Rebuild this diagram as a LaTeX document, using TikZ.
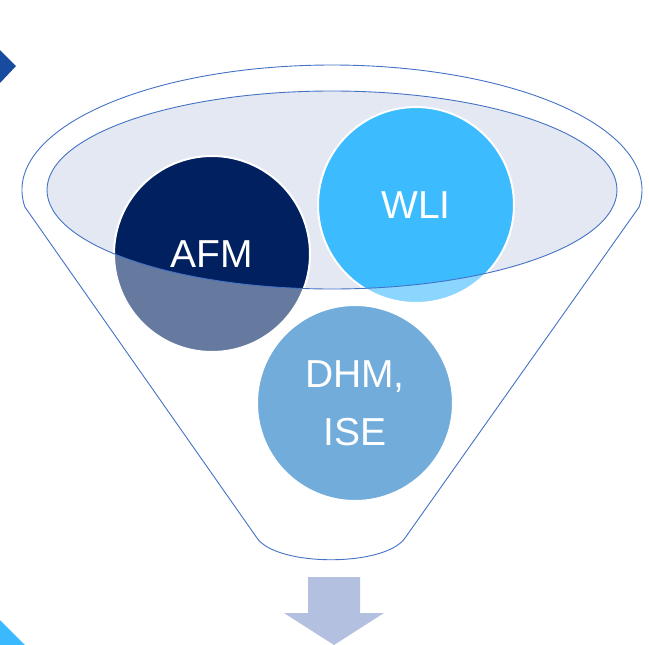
\documentclass[tikz,border=0pt]{standalone}
\usepackage{fontspec}
\setmainfont{Liberation Sans}
\usepackage{tikz}
\usetikzlibrary{calc}
\definecolor{funnelline}{RGB}{68,114,196}
\definecolor{openfill}{RGB}{228,232,243}
\definecolor{afmblue}{RGB}{0,32,96}
\definecolor{wliblue}{RGB}{61,187,255}
\definecolor{dhmblue}{RGB}{20,117,195}
\definecolor{arrowfill}{RGB}{180,192,224}
\definecolor{cornerdark}{RGB}{23,75,160}
\definecolor{cornerlight}{RGB}{59,185,255}
\tikzset{
	bubble/.style={circle, draw=white, line width=2pt, minimum size=196pt, inner sep=0pt,
		text=white, align=center, font=\fontsize{39}{58}\selectfont},
	rim/.style={draw=funnelline, line width=0.9pt}
}
\begin{document}
\begin{tikzpicture}[x=1pt, y=-1pt]
			%%%%% START %%%%%
			\useasboundingbox (0, 0) rectangle (649, 645);
			
			% corner marks
			\fill[cornerdark] (0, 50) -- (16, 66) -- (0, 83) -- cycle;
			\fill[cornerlight] (0, 620) -- (25, 645) -- (0, 645) -- cycle;
			
			% opening of the funnel
			\fill[openfill] (332, 190) ellipse (285 and 99);
			
			\node[bubble, fill=afmblue] (afm) at (212, 254) {AFM};
			\node[bubble, fill=wliblue] (wli) at (416, 205) {WLI};
			\node[bubble, fill=dhmblue] (dhm) at (355, 403) {DHM,\\ISE};
			
			% body of the funnel, lightens what lies below the opening
			\fill[white, opacity=0.4, even odd rule]
				($(332, 190)+(172.2:310 and 125)$) arc (172.2:367.8:310 and 125)
				-- (405, 538) .. controls (385, 567) and (277, 567) .. (257, 538) -- cycle
				(332, 190) ellipse (285 and 99);
			
			\draw[rim] (332, 190) ellipse (285 and 99);
			\draw[rim] ($(332, 190)+(172.2:310 and 125)$) arc (172.2:367.8:310 and 125)
				-- (405, 538) .. controls (385, 567) and (277, 567) .. (257, 538) -- cycle;
			
			% arrow out of the funnel
			\fill[arrowfill] (308, 577) -- (360, 577) -- (360, 613) -- (384, 613)
				-- (334, 645) -- (284, 613) -- (308, 613) -- cycle;
			%%%%% END %%%%%
\end{tikzpicture}
\end{document}
